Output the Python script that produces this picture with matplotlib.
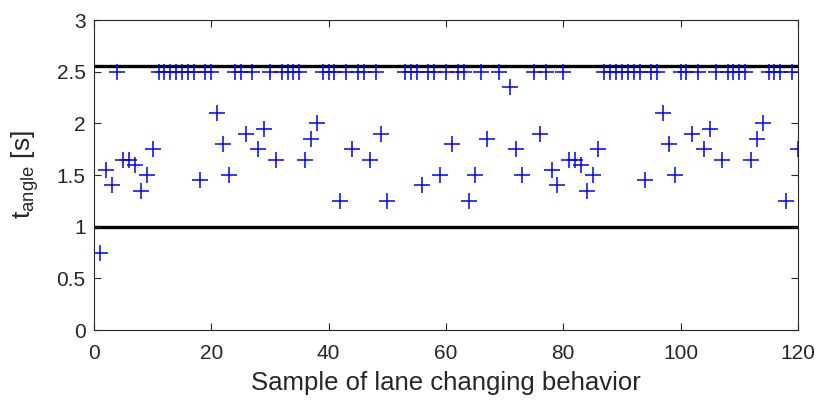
import numpy as np
import matplotlib
matplotlib.use("Agg")
import matplotlib.pyplot as plt

plt.rcParams['font.family'] = ['Liberation Sans', 'DejaVu Sans']
plt.rcParams['mathtext.fontset'] = 'custom'
plt.rcParams['mathtext.rm'] = 'Liberation Sans'
plt.rcParams['mathtext.it'] = 'Liberation Sans'

# t_angle per lane-change sample (samples 1..120); NaN = no valid value
t_angle = [
    0.75, 1.55, 1.40, 2.50, 1.65, 1.65, 1.60, 1.35, 1.50, 1.75,   # 1-10
    2.50, 2.50, 2.50, 2.50, 2.50, 2.50, 2.50, 1.45, 2.50, 2.50,   # 11-20
    2.10, 1.80, 1.50, 2.50, 2.50, 1.90, 2.50, 1.75, 1.95, 2.50,   # 21-30
    1.65, 2.50, 2.50, 2.50, 2.50, 1.65, 1.85, 2.00, 2.50, 2.50,   # 31-40
    2.50, 1.25, 2.50, 1.75, 2.50, 2.50, 1.65, 2.50, 1.90, 1.25,   # 41-50
    np.nan, np.nan, 2.50, 2.50, 2.50, 1.40, 2.50, 2.50, 1.50, 2.50,   # 51-60
    1.80, 2.50, 2.50, 1.25, 1.50, 2.50, 1.85, np.nan, 2.50, np.nan,   # 61-70
    2.35, 1.75, 1.50, np.nan, 2.50, 1.90, 2.50, 1.55, 1.40, 2.50,   # 71-80
    1.65, 1.65, 1.60, 1.35, 1.50, 1.75, 2.50, 2.50, 2.50, 2.50,   # 81-90
    2.50, 2.50, 2.50, 1.45, 2.50, 2.50, 2.10, 1.80, 1.50, 2.50,   # 91-100
    2.50, 1.90, 2.50, 1.75, 1.95, 2.50, 1.65, 2.50, 2.50, 2.50,   # 101-110
    2.50, 1.65, 1.85, 2.00, 2.50, 2.50, 2.50, 1.25, 2.50, 1.75,   # 111-120
]
samples = np.arange(1, len(t_angle) + 1)

# threshold lines
upper_limit = 2.56
lower_limit = 1.0

x_ticks = [0, 20, 40, 60, 80, 100, 120]
y_ticks = [0, 0.5, 1, 1.5, 2, 2.5, 3]

fig = plt.figure(figsize=(8.2, 4.03), dpi=100)
ax = fig.add_axes([0.1146, 0.181, 0.8585, 0.769])

ax.axhline(upper_limit, color='black', lw=2.4, zorder=1)
ax.axhline(lower_limit, color='black', lw=2.4, zorder=1)
ax.plot(samples, t_angle, linestyle='none', marker='+', color='#0000ff',
        markersize=11.5, markeredgewidth=1.1, zorder=2)

ax.set_xlim(0, 120)
ax.set_ylim(0, 3)
ax.set_xticks(x_ticks)
ax.set_yticks(y_ticks)
ax.set_yticklabels(['0', '0.5', '1', '1.5', '2', '2.5', '3'])

grey = '#262626'
for s in ax.spines.values():
    s.set_color('#262626')
    s.set_linewidth(0.8)
ax.tick_params(direction='in', length=5, width=0.8, colors=grey,
               labelsize=15, top=True, right=True)
ax.tick_params(axis='x', pad=10)
ax.tick_params(axis='y', pad=6)

ax.set_xlabel('Sample of lane changing behavior', fontsize=18.5, color=grey, labelpad=6)
ax.set_ylabel(r'$\mathregular{t_{angle}}$ [s]', fontsize=19, color=grey, labelpad=11)

fig.savefig('out.png', dpi=100)
